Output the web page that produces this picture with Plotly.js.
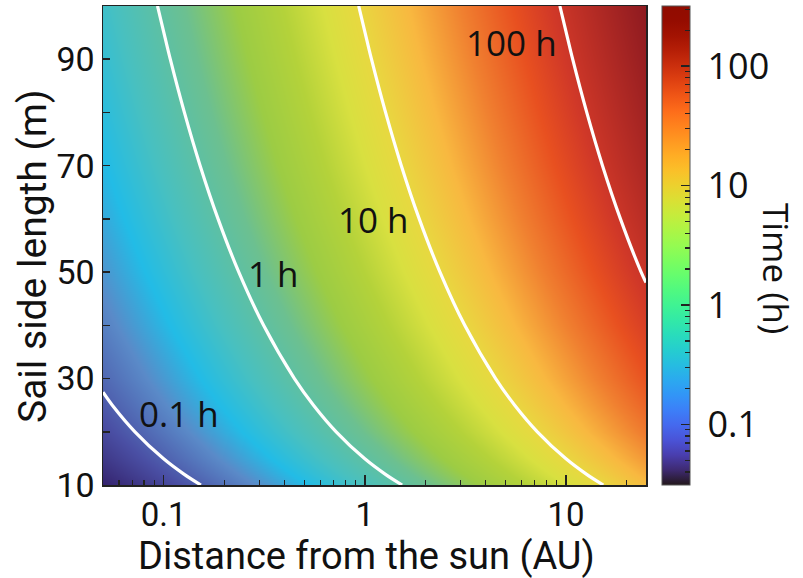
<!DOCTYPE html>
<html>
<head>
<meta charset="utf-8">
<script src="https://cdn.plot.ly/plotly-3.0.1.min.js"></script>
<style>html,body{margin:0;padding:0;background:#fff;}#chart{width:803px;height:578px;}</style>
</head>
<body>
<div id="chart"></div>
<script>
// ---- data ----
const distanceAU = [0.05, 0.1, 1, 10, 25];
const sailLengthM = [10, 12, 15, 20, 25, 30, 40, 50, 60, 70, 80, 90, 100];
// time (hours), rows = sail length, columns = distance
const timeH = [
  [0.0326, 0.0652, 0.652, 6.52, 16.3],
  [0.0395, 0.0789, 0.789, 7.89, 19.7],
  [0.0503, 0.1005, 1.005, 10.05, 25.1],
  [0.0694, 0.1387, 1.387, 13.87, 34.7],
  [0.0899, 0.1798, 1.798, 17.98, 45.0],
  [0.1118, 0.2236, 2.236, 22.36, 55.9],
  [0.1592, 0.3184, 3.184, 31.84, 79.6],
  [0.2114, 0.4227, 4.227, 42.27, 105.7],
  [0.268, 0.536, 5.36, 53.6, 134.0],
  [0.329, 0.658, 6.58, 65.8, 164.5],
  [0.394, 0.788, 7.88, 78.8, 197.0],
  [0.463, 0.926, 9.26, 92.6, 231.5],
  [0.536, 1.072, 10.72, 107.2, 267.9]
];
const contourLevelsH = [0.1, 1, 10, 100];
const contourLabels = ['0.1 h', '1 h', '10 h', '100 h'];
const contourLabelDist = [0.119, 0.35, 1.108, 5.34];
const contourLabelLen = [23.5, 49.8, 59.9, 93.2];
const xTickVals = [0.1, 1, 10];
const xTickText = ['0.1', '1', '10'];
const xMinorVals = [0.06,0.07,0.08,0.09,0.2,0.3,0.4,0.5,0.6,0.7,0.8,0.9,2,3,4,5,6,7,8,9,20];
const yTickVals = [10, 20, 30, 40, 50, 60, 70, 80, 90, 100];
const yTickText = ['10', '', '30', '', '50', '', '70', '', '90', ''];
const cbTickVals = [0.1, 1, 10, 100];
const cbTickText = ['0.1', '1', '10', '100'];
const cbMinorVals = [0.04,0.05,0.06,0.07,0.08,0.09,0.2,0.3,0.4,0.5,0.6,0.7,0.8,0.9,
  2,3,4,5,6,7,8,9,20,30,40,50,60,70,80,90,200,300];
const cbRangeH = [0.0311, 319];
const xRangeAU = [0.05, 25];
const yRangeM = [10, 100];

// ---- styling ----
function turbo(t){
  t = Math.max(0, Math.min(1, t));
  const r = 34.61 + t*(1172.33 - t*(10793.56 - t*(33300.12 - t*(38394.49 - t*14825.05))));
  const g = 23.31 + t*(557.33 + t*(1225.33 - t*(3574.96 - t*(1073.77 + t*707.56))));
  const b = 27.2 + t*(3211.1 - t*(15327.97 - t*(27814 - t*(22569.18 - t*6838.66))));
  const c = v => Math.max(0, Math.min(255, Math.round(v)));
  return 'rgb(' + c(r) + ',' + c(g) + ',' + c(b) + ')';
}
const turboScale = [];
for (let i = 0; i <= 32; i++) turboScale.push([i/32, turbo(i/32)]);
// muted rendering of the map as it appears inside the plot area
const heatScale = [
  [0.00, '#33206a'], [0.10, '#4a4fa4'], [0.193, '#5a8ac8'], [0.259, '#22bce6'],
  [0.323, '#48c0c0'], [0.408, '#6cc090'], [0.472, '#9ccc44'], [0.53, '#b4d23a'],
  [0.58, '#d8e040'], [0.623, '#e8d840'], [0.686, '#f8b840'], [0.751, '#f08030'],
  [0.815, '#e85020'], [0.864, '#d03828'], [0.98, '#8e1a20'], [1.00, '#7a0e10']
];
const clearScale = [[0,'rgba(0,0,0,0)'],[1,'rgba(0,0,0,0)']];

const lg = v => Math.log10(v);
const zLog = timeH.map(r => r.map(lg));
const zmin = lg(cbRangeH[0]), zmax = lg(cbRangeH[1]);

const plotL = 103, plotR = 646, plotT = 6, plotB = 485;
const pw = plotR - plotL, ph = plotB - plotT;
const cbX = (662 - plotL) / pw;

const axisFont = {family: 'Roboto, "Open Sans", sans-serif', size: 33, color: '#111'};
const titleFont = {family: 'Roboto, "Open Sans", sans-serif', size: 38, color: '#111'};
const labelFont = {family: '"Open Sans", "Noto Sans", sans-serif', size: 35, color: '#111'};
const cbFont = {family: '"Open Sans", "Noto Sans", sans-serif', size: 36, color: '#111'};

const baseCb = {
  x: cbX, xanchor: 'left', xpad: 0, y: 0.5, yanchor: 'middle', ypad: 0,
  len: 1, lenmode: 'fraction', thickness: 28, thicknessmode: 'pixels'
};

const heat = {
  type: 'heatmap', x: distanceAU, y: sailLengthM, z: zLog,
  zmin: zmin, zmax: zmax, zsmooth: 'best', colorscale: heatScale,
  hoverinfo: 'skip', showscale: false
};
const scaleBar = {
  type: 'heatmap', x: distanceAU, y: sailLengthM, z: zLog, opacity: 0,
  zmin: zmin, zmax: zmax, colorscale: turboScale, hoverinfo: 'skip',
  colorbar: Object.assign({}, baseCb, {
    outlinewidth: 1, outlinecolor: '#555',
    tickmode: 'array', tickvals: cbTickVals.map(lg),
    ticktext: cbTickText.map(s => '\u00a0' + s),
    ticks: 'inside', ticklen: 9, tickwidth: 1.6, tickcolor: '#222',
    tickfont: cbFont
  })
};
const minorBar = {
  type: 'heatmap', x: distanceAU, y: sailLengthM, z: zLog,
  zmin: zmin, zmax: zmax, colorscale: clearScale, hoverinfo: 'skip',
  colorbar: Object.assign({}, baseCb, {
    outlinewidth: 0,
    tickmode: 'array', tickvals: cbMinorVals.map(lg),
    ticks: 'inside', ticklen: 5, tickwidth: 1.2, tickcolor: '#222',
    showticklabels: false
  })
};
const lines = {
  type: 'contour', x: distanceAU, y: sailLengthM, z: zLog,
  autocontour: false,
  contours: {start: lg(contourLevelsH[0]), end: lg(contourLevelsH[contourLevelsH.length-1]), size: 1, coloring: 'none'},
  line: {color: 'white', width: 3.2, smoothing: 1.0},
  showscale: false, hoverinfo: 'skip'
};

const annotations = contourLabels.map((t, i) => ({
  text: t, x: lg(contourLabelDist[i]), y: contourLabelLen[i], xref: 'x', yref: 'y',
  showarrow: false, xanchor: 'center', yanchor: 'middle', font: labelFont
}));
annotations.push({
  text: 'Time (h)', textangle: 90, xref: 'paper', yref: 'paper',
  x: (777 - plotL) / pw, y: (plotB - 268) / ph, xanchor: 'center', yanchor: 'middle',
  showarrow: false, font: {family: labelFont.family, size: 35, color: '#111'}
});
annotations.push({
  text: 'Sail side length (m)', textangle: -90, xref: 'paper', yref: 'paper',
  x: (33 - plotL) / pw, y: (plotB - 256) / ph, xanchor: 'center', yanchor: 'middle',
  showarrow: false, font: Object.assign({}, titleFont, {size: 39})
});
annotations.push({
  text: 'Distance from the sun (AU)', xref: 'paper', yref: 'paper',
  x: 0.5 + (366 - (plotL + plotR) / 2) / pw, y: -(556 - plotB) / ph, xanchor: 'center', yanchor: 'middle',
  showarrow: false, font: titleFont
});

const layout = {
  width: 803, height: 578,
  margin: {l: plotL, r: 803 - plotR, t: plotT, b: 578 - plotB, pad: 0},
  paper_bgcolor: '#fff', plot_bgcolor: '#fff',
  showlegend: false,
  xaxis: {
    type: 'log', range: xRangeAU.map(lg),
    tickmode: 'array', tickvals: xTickVals, ticktext: xTickText,
    ticks: 'inside', ticklen: 10, tickwidth: 1.5, tickcolor: '#222',
    minor: {tickmode: 'array', tickvals: xMinorVals,
            ticks: 'inside', ticklen: 5, tickwidth: 1.2, tickcolor: '#222', showgrid: false},
    showgrid: false, zeroline: false, showline: true, mirror: true,
    linecolor: '#222', linewidth: 1.5,
    tickfont: axisFont
  },
  yaxis: {
    range: yRangeM,
    tickmode: 'array', tickvals: yTickVals, ticktext: yTickText,
    ticks: 'inside', ticklen: 7, tickwidth: 1.5, tickcolor: '#222',
    showgrid: false, zeroline: false, showline: true, mirror: true,
    linecolor: '#222', linewidth: 1.5,
    tickfont: Object.assign({}, axisFont, {size: 34})
  },
  annotations: annotations
};

Plotly.newPlot('chart', [heat, scaleBar, minorBar, lines], layout, {displayModeBar: false, staticPlot: true});
</script>
</body>
</html>
